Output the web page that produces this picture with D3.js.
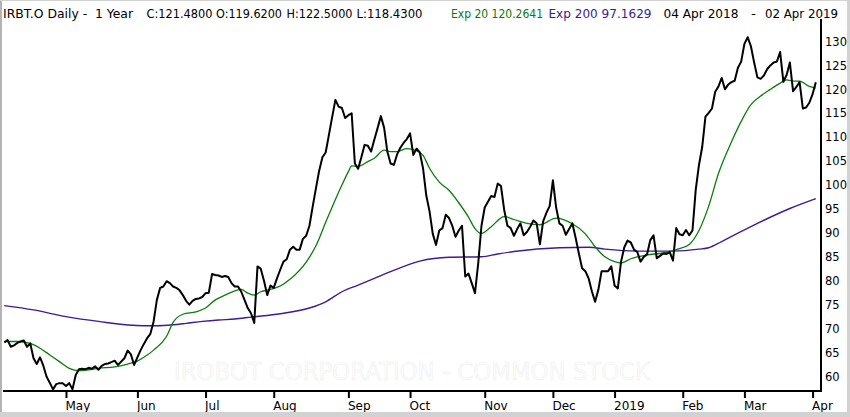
<!DOCTYPE html>
<html><head><meta charset="utf-8">
<script src="https://cdn.jsdelivr.net/npm/d3@7"></script>
<style>
html,body{margin:0;padding:0;background:#fff;}
svg{display:block;font-family:"DejaVu Sans",sans-serif;}
</style></head>
<body>
<svg id="c" width="850" height="417"></svg>
<script>
// ---- data (trading-day index 0 = 04 Apr 2018, 250 = 02 Apr 2019) ----
const closes = [
67.1,67.6,66.2,66.5,67.0,67.3,67.5,66.2,66.9,63.8,
62.6,64.0,62.3,60.0,58.7,57.3,58.4,58.6,58.6,58.0,
58.6,57.3,60.3,61.5,61.6,61.5,61.8,61.6,62.1,61.4,
62.2,62.6,62.7,63.0,63.3,62.4,63.1,63.8,65.4,64.6,
62.4,64.0,65.5,66.8,68.0,68.9,71.5,76.0,78.5,78.8,
79.9,79.5,78.8,78.5,78.0,77.0,75.8,75.0,75.8,76.2,
76.3,76.6,77.4,77.5,81.4,81.2,81.1,80.8,81.0,80.8,
79.5,78.8,78.8,77.7,76.0,74.3,73.2,71.2,83.0,82.5,
80.0,77.0,79.0,78.5,80.5,82.3,84.0,84.5,86.5,87.1,
86.5,86.5,88.8,89.4,91.5,95.5,99.3,103.0,105.8,106.8,
110.5,114.2,117.8,116.4,116.1,114.0,114.6,115.0,104.5,103.4,
105.8,108.4,108.2,107.0,109.5,111.9,114.4,112.0,107.0,104.5,
104.2,106.4,107.8,108.8,109.6,110.8,106.3,107.6,106.8,103.5,
97.8,94.5,89.8,87.5,90.5,91.0,93.8,93.1,91.5,89.2,
90.5,91.5,80.9,81.5,79.5,77.4,83.7,91.5,95.3,96.5,
97.7,97.5,100.3,99.8,94.8,91.5,91.0,89.4,90.8,92.0,
89.5,90.2,91.3,92.6,92.0,87.6,92.4,94.2,95.6,101.0,
95.3,92.0,91.5,89.6,90.8,92.0,89.0,85.7,82.6,82.0,
80.5,77.8,75.6,78.1,82.0,82.0,82.0,83.0,79.0,78.4,
84.0,87.0,88.4,88.0,86.5,86.0,84.0,85.0,85.5,88.5,
89.5,84.7,85.2,85.7,85.6,86.0,84.2,91.0,89.7,89.5,
90.6,89.5,90.5,99.0,104.2,108.0,114.3,115.1,116.0,119.5,
120.6,122.4,120.0,121.0,121.5,121.8,124.5,125.8,129.5,130.9,
129.0,125.6,122.5,122.2,122.9,124.2,125.0,125.6,125.8,127.8,
121.6,123.0,125.6,119.6,120.5,121.5,116.0,116.2,117.2,119.0,
121.48
];
const ema20Days = [0,4,8,11,14,17,20,23,26,29,34,38,41,43,46,50,52,55,59,62,65,68,71,73,75,77,79,82,85,88,93,96,99,102,104,106,107,109,112,114,117,119,121,124,127,129,131,134,137,140,143,145,147,150,154,157,161,165,170,175,179,182,185,188,190,193,198,203,207,211,214,217,220,224,227,230,233,236,239,241,243,245,248,250];
const ema20Vals = [67.3,67.3,66.9,65.9,64.5,63.1,61.7,61.2,61.4,61.7,62.0,62.6,63.2,64.0,65.5,68.4,71.3,73.0,73.5,74.3,76.0,77.0,77.9,78.2,77.4,77.0,77.7,78.2,78.9,80.3,83.9,87.3,92.2,97.0,100.0,102.8,104.0,103.9,104.9,105.6,107.3,107.0,107.0,107.6,107.2,106.2,103.5,100.6,98.9,96.3,93.3,90.9,89.9,91.3,93.4,92.8,92.0,91.7,93.1,91.9,89.8,87.1,85.0,84.0,83.7,84.6,85.4,85.8,86.5,87.6,90.5,95.6,102.4,109.0,113.3,116.8,118.6,120.0,121.3,122.0,121.7,121.7,120.6,120.26];
const ema200Days = [0,9,19,29,43,47,52,56,61,66,71,76,85,94,99,104,109,114,119,128,137,147,152,157,171,180,185,195,206,214,217,221,232,242,250];
const ema200Vals = [74.8,73.9,72.5,71.5,70.6,70.6,70.8,71.1,71.5,71.8,72.0,72.4,73.1,74.3,75.6,77.7,79.1,80.5,81.9,84.1,84.9,85.0,85.6,86.1,86.9,87.0,86.6,86.2,86.2,86.6,86.9,88.2,92.0,95.1,97.16];
const tickDays = [19,41,62,83,106,125,148,169,188,209,228,249];
const tickLabels = ["May","Jun","Jul","Aug","Sep","Oct","Nov","Dec","2019","Feb","Mar","Apr"];
const yTicks = [60,65,70,75,80,85,90,95,100,105,110,115,120,125,130];
const headerTexts  = ["IRBT.O Daily -  1 Year","C:121.4800","O:119.6200","H:122.5000","L:118.4300","Exp 20 120.2641","Exp 200 97.1629","04 Apr 2018","-","02 Apr 2019"];
const headerColors = ["#000","#000","#000","#000","#000","#0b7a0b","#3a1d8c","#000","#000","#000"];
const watermark = "IROBOT CORPORATION - COMMON STOCK";

// ---- layout for header pieces (x start, width) ----
const headerX = [3,146.5,216,286.5,356.5,451,548.5,663.5,751,765];
const headerW = [130,66,66,66,66,92,103,75,5,73];

// ---- drawing ----
const svg = d3.select("#c");
const W = 850, H = 417;
svg.append("rect").attr("width",W).attr("height",H).attr("fill","#fff");

const x = d3.scaleLinear().domain([0, 251.5]).range([4.3, 820.7]);
const y = d3.scaleLinear().domain([57, 130]).range([390.8, 41.5]);

// watermark (very faint)
svg.append("text").attr("x",412).attr("y",380)
  .attr("text-anchor","middle").attr("font-size",24)
  .attr("textLength",476).attr("lengthAdjust","spacingAndGlyphs")
  .attr("fill","#fcfcfc").attr("stroke","#f1f1f1").attr("stroke-width",0.6)
  .text(watermark);

// lines
const ema200Line = d3.line().x((d,i)=>x(ema200Days[i])).y(d=>y(d)).curve(d3.curveMonotoneX);
const ema20Line = d3.line().x((d,i)=>x(ema20Days[i])).y(d=>y(d)).curve(d3.curveMonotoneX);
const priceLine = d3.line().x((d,i)=>x(i)).y(d=>y(d));

svg.append("path").attr("d",ema200Line(ema200Vals)).attr("fill","none")
  .attr("stroke","#3a1d96").attr("stroke-width",1.4);
svg.append("path").attr("d",ema20Line(ema20Vals)).attr("fill","none")
  .attr("stroke","#0b7d0b").attr("stroke-width",1.3);
svg.append("path").attr("d",priceLine(closes)).attr("fill","none")
  .attr("stroke","#000").attr("stroke-width",2).attr("stroke-linejoin","round");

// axes
const xAxis = d3.axisBottom(x).tickValues(tickDays).tickSize(7)
  .tickFormat((d,i)=>tickLabels[i]);
const gx = svg.append("g").attr("transform","translate(0,391)").call(xAxis);
gx.select(".domain").remove();
gx.selectAll(".tick line").attr("stroke","#000").attr("stroke-width",2);
gx.selectAll(".tick text").attr("text-anchor","start").attr("dx",-1).attr("y",10)
  .attr("font-size",12).attr("font-family","DejaVu Sans").attr("fill","#000");
svg.append("line").attr("x1",3).attr("x2",821.5).attr("y1",391).attr("y2",391)
  .attr("stroke","#000").attr("stroke-width",2.2);

const yAxis = d3.axisRight(y).tickValues(yTicks).tickSize(0).tickPadding(4);
const gy = svg.append("g").attr("transform","translate(821,0)").call(yAxis);
gy.select(".domain").remove();
gy.selectAll(".tick text").attr("font-size",11.5).attr("font-family","DejaVu Sans").attr("fill","#000");
svg.append("line").attr("x1",821).attr("x2",821).attr("y1",19).attr("y2",392)
  .attr("stroke","#000").attr("stroke-width",2);

// header
const hg = svg.append("g");
headerTexts.forEach((t,i)=>{
  hg.append("text").attr("x",headerX[i]).attr("y",17.5).attr("font-size",12.5)
    .attr("textLength",headerW[i]).attr("lengthAdjust","spacingAndGlyphs")
    .style("white-space","pre")
    .attr("fill",headerColors[i]).text(t);
});

// frame
svg.append("rect").attr("x",0).attr("y",0).attr("width",2).attr("height",H).attr("fill","#b4b4b4");
svg.append("rect").attr("x",0).attr("y",412).attr("width",W).attr("height",5).attr("fill","#d2d2d2");
svg.append("rect").attr("x",847).attr("y",0).attr("width",3).attr("height",H).attr("fill","#d2d2d2");
svg.append("rect").attr("x",0).attr("y",0).attr("width",W).attr("height",1).attr("fill","#d2d2d2");
</script>
</body></html>
